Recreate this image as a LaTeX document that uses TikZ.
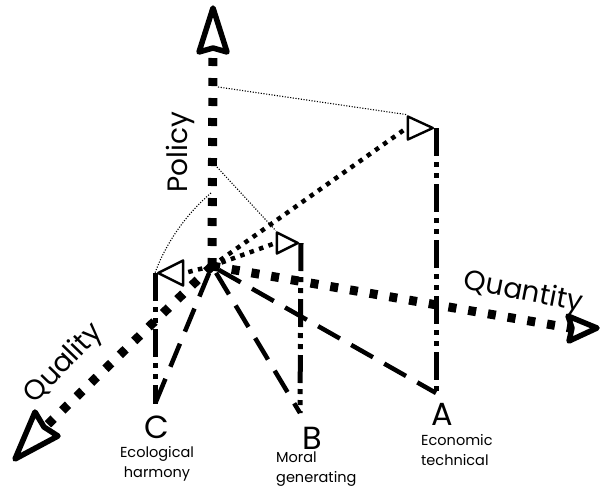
\documentclass[tikz,border=0pt]{standalone}
\usepackage{fontspec}
\setmainfont{Poppins}
\usetikzlibrary{shapes.geometric}
\begin{document}
\begin{tikzpicture}[x=1pt,y=-1pt,
  axisline/.style={line width=9pt, dash pattern=on 8pt off 12pt},
  axishead/.style={draw, fill=white, line width=5.5pt, line join=round},
  dotline/.style={line width=4.5pt, dash pattern=on 4.5pt off 5.5pt},
  longdash/.style={line width=4.5pt, dash pattern=on 25pt off 13pt, dash phase=-8pt},
  dashdot/.style={line width=5pt, dash pattern=on 28pt off 6pt on 5pt off 6pt on 5pt off 6pt},
  guide/.style={line width=1.1pt, dash pattern=on 1.1pt off 1.6pt},
  tri/.style={isosceles triangle, isosceles triangle stretches, draw,
    line width=2.4pt, inner sep=0pt, line join=round},
  axislabel/.style={inner sep=0pt, font=\fontsize{28}{28}\selectfont},
  letter/.style={inner sep=0pt, font=\fontsize{32}{32}\selectfont},
  caption/.style={inner sep=0pt, font=\fontsize{14.5}{20}\selectfont, align=left},
]
\useasboundingbox (0,0) rectangle (601,488);

% origin of the three axes, the ends of their shafts and the foot points
\coordinate (O) at (212,266);
\coordinate (pEnd) at (213,52);
\coordinate (qREnd) at (570,328);
\coordinate (qLEnd) at (45,427);
\coordinate (fC) at (155,404);
\coordinate (fB) at (300,413);
\coordinate (fA) at (436,393);

% open triangles on top of the vertical lines
\node[tri, minimum width=23pt, minimum height=25pt, anchor=apex] (tA) at (436,128) {};
\node[tri, minimum width=21pt, minimum height=21pt, anchor=apex] (tB) at (301,243) {};
\node[tri, minimum width=25pt, minimum height=25pt, anchor=apex,
      shape border rotate=180] (tC) at (155,273) {};

% long dashed rays to the foot points
\draw[longdash] (O) -- (fC);
\draw[longdash] (O) -- (fB);
\draw[longdash] (O) -- (fA);

% dash-dot verticals
\draw[dashdot] (tA.apex) -- (fA);
\draw[dashdot] (tB.apex) -- (fB);
\draw[dashdot] (tC.apex) -- (fC);

% the three axes with their open heads
\draw[axisline] (O) -- (pEnd);
\draw[axisline] (O) -- (qREnd);
\draw[axisline] (O) -- (qLEnd);
\draw[axishead] (213,8) -- (227,52) -- (213,48) -- (199,52) -- cycle;
\draw[axishead] (597,328) -- (569,341) -- (572,328) -- (568,316) -- cycle;
\draw[axishead] (15,459) -- (35,412) -- (44,427) -- (58,436) -- cycle;

% dotted rays to the triangles
\draw[dotline] (O) -- (tA.west);
\draw[dotline] (O) -- (tB.west);
\draw[dotline] (O) -- (tC.east);

% thin guides from the policy axis
\coordinate (g1) at (218,87);
\coordinate (g2) at (217,167);
\coordinate (g3) at (211,193);
\draw[guide] (g1) -- (tA.left corner);
\draw[guide] (g2) -- (tB.left corner);
\draw[guide] (g3) .. controls (185,215) and (165,245) .. (tC.apex);

% axis names
\node[axislabel, rotate=90] (lPolicy) at (180,152) {Policy};
\node[axislabel, rotate=-11] (lQuantity) at (523,293) {Quantity};
\node[axislabel, rotate=46] (lQuality) at (64,364) {Quality};

% sphere letters and captions
\node[letter] (lC) at (157,427) {C};
\node[caption, align=center] (dC) at (157,464) {Ecological\\harmony};
\node[letter] (lB) at (312,438) {B};
\node[caption, anchor=north west] (dB) at (276,452) {Moral\\generating};
\node[letter] (lA) at (442,414) {A};
\node[caption, anchor=north west] (dA) at (421,434) {Economic\\technical};
\end{tikzpicture}
\end{document}
